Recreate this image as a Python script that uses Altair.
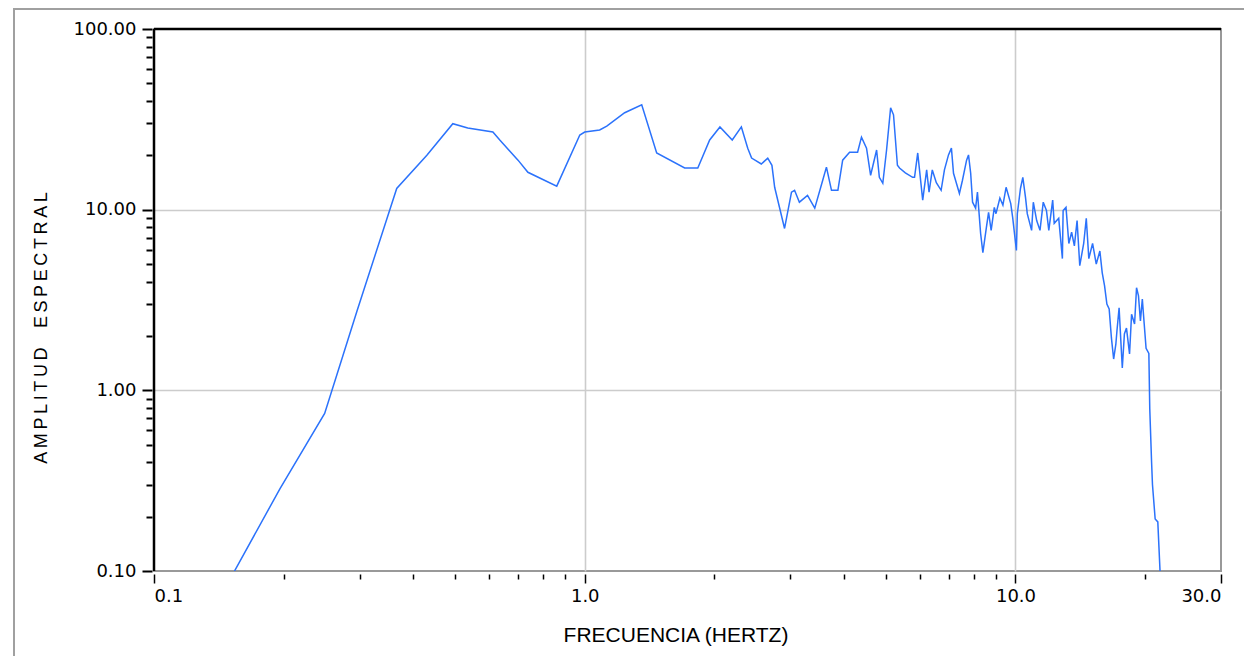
import altair as alt
import pandas as pd

# Frequency (Hz) and spectral amplitude
freq = [0.152, 0.196, 0.249, 0.296, 0.366, 0.43, 0.494, 0.535, 0.612, 0.635,
        0.70, 0.738, 0.861, 0.974, 1.0, 1.083, 1.125, 1.238, 1.356, 1.469,
        1.706, 1.83, 1.95, 2.06, 2.20, 2.31, 2.39, 2.44, 2.57, 2.66,
        2.72, 2.76, 2.91, 3.02, 3.07, 3.15, 3.29, 3.42, 3.57, 3.64,
        3.74, 3.87, 3.97, 4.12, 4.30, 4.39, 4.51, 4.61, 4.76, 4.83,
        4.92, 5.02, 5.13, 5.21, 5.32, 5.38, 5.55, 5.77, 5.83, 5.93,
        6.09, 6.22, 6.30, 6.41, 6.55, 6.72, 6.84, 6.99, 7.10, 7.18,
        7.41, 7.53, 7.70, 7.78, 7.87, 7.95, 8.08, 8.16, 8.30, 8.40,
        8.56, 8.66, 8.78, 8.93, 9.01, 9.20, 9.35, 9.51, 9.75, 9.85,
        10.05, 10.1, 10.27, 10.4, 10.55, 10.65, 10.9, 11.0, 11.2, 11.4,
        11.6, 11.8, 11.95, 12.2, 12.3, 12.6, 12.85, 12.9, 13.1, 13.3,
        13.5, 13.7, 13.9, 14.1, 14.4, 14.6, 14.8, 15.1, 15.4, 15.7,
        15.9, 16.1, 16.3, 16.5, 16.7, 16.9, 17.1, 17.2, 17.4, 17.6,
        17.7, 17.9, 18.1, 18.4, 18.6, 18.9, 19.1, 19.3, 19.5, 19.7,
        19.9, 20.1, 20.4, 20.5, 20.7, 20.8, 21.1, 21.4, 21.7]
amp = [0.095, 0.285, 0.745, 2.75, 13.1, 20.0, 29.9, 28.3, 26.9, 24.3,
       18.8, 16.1, 13.5, 25.9, 26.9, 27.6, 29.0, 34.4, 38.1, 20.6,
       17.0, 17.0, 24.3, 28.7, 24.3, 28.7, 21.9, 19.3, 17.9, 19.3,
       17.6, 13.3, 7.87, 12.5, 12.8, 11.0, 12.0, 10.2, 14.6, 17.2,
       12.8, 12.8, 18.8, 20.8, 20.8, 25.2, 21.9, 15.5, 21.4, 15.1,
       14.0, 21.4, 36.6, 33.5, 17.6, 17.0, 16.0, 15.1, 15.1, 20.6,
       11.3, 16.6, 12.5, 16.6, 14.1, 12.8, 16.6, 20.1, 21.9, 15.9,
       12.3, 14.5, 18.8, 20.1, 15.9, 11.0, 10.2, 12.5, 7.38, 5.78,
       7.97, 9.66, 7.68, 10.3, 9.5, 11.6, 10.6, 13.3, 10.8, 9.06,
       5.94, 9.5, 13.1, 15.1, 11.7, 9.5, 7.68, 11.0, 8.7, 7.68,
       11.0, 9.9, 7.68, 11.3, 8.4, 8.95, 5.36, 9.9, 10.3, 6.5,
       7.5, 6.3, 8.7, 4.9, 6.5, 8.95, 5.36, 6.5, 5.0, 5.9,
       4.47, 3.79, 3.0, 2.82, 1.95, 1.49, 1.8, 2.13, 2.86, 1.71,
       1.33, 2.05, 2.21, 1.59, 2.64, 2.33, 3.7, 3.33, 2.42, 3.2,
       2.33, 1.71, 1.6, 0.79, 0.40, 0.30, 0.194, 0.187, 0.09]

x_major = [0.1, 1, 10, 30]
x_minor = [0.2, 0.3, 0.4, 0.5, 0.6, 0.7, 0.8, 0.9, 2, 3, 4, 5, 6, 7, 8, 9, 20]
y_major = [0.1, 1, 10, 100]
y_minor = [0.2, 0.3, 0.4, 0.5, 0.6, 0.7, 0.8, 0.9, 2, 3, 4, 5, 6, 7, 8, 9,
           20, 30, 40, 50, 60, 70, 80, 90]
grid_vals = [1, 10]

x_title = "FRECUENCIA (HERTZ)"
y_title = "\u2009".join("AMPLITUD") + "\u2009\u2009 \u2009\u2009" + "\u2009".join("ESPECTRAL")

W, H = 1067, 542
LABEL_FONT = "DejaVu Sans"

df = pd.DataFrame({"f": freq, "a": amp})

xs = alt.Scale(type="log", domain=[0.1, 30], nice=False)
ys = alt.Scale(type="log", domain=[0.1, 100], nice=False)

base = alt.Chart(df)

grid = base.mark_line(opacity=0).encode(
    x=alt.X("f:Q", scale=xs, axis=alt.Axis(orient="bottom", values=grid_vals, grid=True,
            gridColor="#cccccc", gridWidth=1.6, ticks=False, labels=False, domain=False, title=None)),
    y=alt.Y("a:Q", scale=ys, axis=alt.Axis(orient="left", values=grid_vals, grid=True,
            gridColor="#cccccc", gridWidth=1.6, ticks=False, labels=False, domain=False, title=None)),
)

minor = base.mark_line(opacity=0).encode(
    x=alt.X("f:Q", scale=xs, axis=alt.Axis(orient="bottom", values=x_minor, grid=False,
            labels=False, domain=False, title=None, offset=3, tickSize=5, tickWidth=1.5,
            tickColor="black")),
    y=alt.Y("a:Q", scale=ys, axis=alt.Axis(orient="left", values=y_minor, grid=False,
            labels=False, domain=False, title=None, offset=2, tickSize=6, tickWidth=2,
            tickColor="black")),
)

line = base.mark_line(clip=True, color="#2b72fb", strokeWidth=1.5).encode(
    x=alt.X("f:Q", scale=xs, axis=alt.Axis(orient="bottom", values=x_major, format=".1f",
            grid=False, domain=False, title=None, offset=3, tickSize=9, tickWidth=1.5,
            tickColor="black", labelFont=LABEL_FONT, labelFontSize=18, labelColor="black",
            labelPadding=4)),
    y=alt.Y("a:Q", scale=ys, axis=alt.Axis(orient="left", values=y_major, format=".2f",
            grid=False, domain=False, title=None, offset=2, tickSize=10, tickWidth=2,
            tickColor="black", labelFont=LABEL_FONT, labelFontSize=18, labelColor="black",
            labelPadding=6)),
)

one = alt.Data(values=[{}])

top_rule = alt.Chart(one).mark_rule(color="black", strokeWidth=2.5).encode(
    x=alt.value(0), x2=alt.value(W), y=alt.value(0))
left_rule = alt.Chart(one).mark_rule(color="black", strokeWidth=2.5).encode(
    x=alt.value(0), y=alt.value(0), y2=alt.value(H))
frame_left = alt.Chart(one).mark_rule(color="#a0a0a0", strokeWidth=2).encode(
    x=alt.value(-140), y=alt.value(-20), y2=alt.value(700))
frame_top = alt.Chart(one).mark_rule(color="#a0a0a0", strokeWidth=2).encode(
    x=alt.value(-141), x2=alt.value(1200), y=alt.value(-20))

xt = alt.Chart(one).mark_text(font="Liberation Sans", fontSize=21, color="black",
                              align="center", baseline="middle").encode(
    x=alt.value(522), y=alt.value(607), text=alt.value(x_title))
yt = alt.Chart(one).mark_text(font="Liberation Sans", fontSize=18, color="black",
                              align="center", baseline="middle", angle=270).encode(
    x=alt.value(-112), y=alt.value(299), text=alt.value(y_title))

chart = alt.layer(grid, minor, line, top_rule, left_rule, frame_left, frame_top, xt, yt).resolve_axis(
    x="independent", y="independent"
).properties(
    width=W, height=H,
    autosize=alt.AutoSizeParams(type="none"),
    padding={"left": 146, "top": 21, "right": 23, "bottom": 85},
).configure_view(stroke="#999999", strokeWidth=2)

chart.save("out.html", embed_options={"renderer": "svg", "actions": False})
